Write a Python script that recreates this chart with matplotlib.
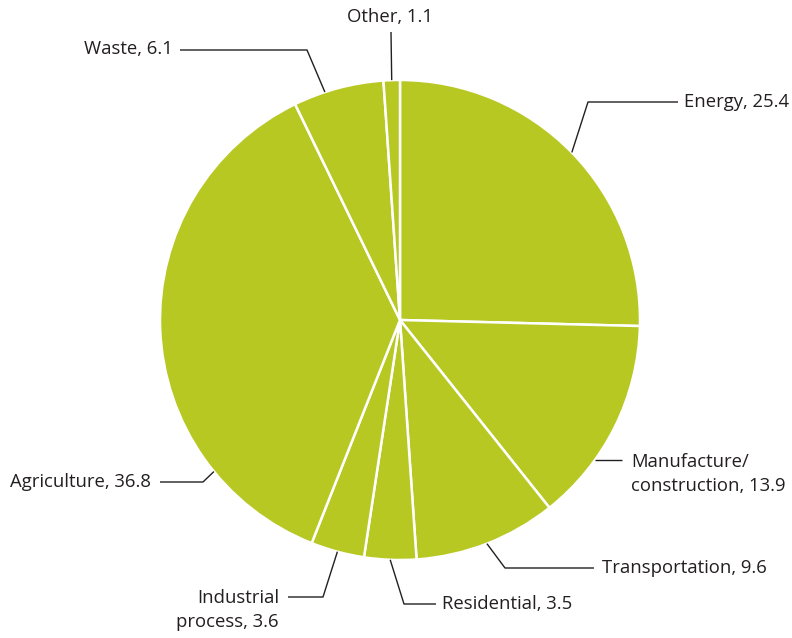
import numpy as np
from matplotlib import pyplot as plt

# ----- DATA ----- #
sectors = ['Energy', 'Manufacture/\nconstruction', 'Transportation', 'Residential',
           'Industrial\nprocess', 'Agriculture', 'Waste', 'Other']
shares = [25.4, 13.9, 9.6, 3.5, 3.6, 36.8, 6.1, 1.1]

# ----- LAYOUT (pixel coords, y down) ----- #
W, H = 792, 638
cx, cy, rad = 400, 320, 240
# anchor angle offset from slice middle [deg], elbow point, line end, text pos, alignment
anchor_off = [0, -9.2, 0, 0, 0, 37.0, 3.3, 0]
elbows = [(588, 102), None, (505, 568), (404, 604), (323, 597), (203, 482), (307, 50), None]
ends = [(678, 102), (622, 460), (594, 568), (436, 604), (288, 597), (160, 482), (180, 50), (391, 32)]
text_pos = [(684, 102), (631, 474), (602, 568), (442, 604), (279, 610), (151, 482), (173, 49), (390, 17)]
text_ha = ['left', 'left', 'left', 'left', 'right', 'right', 'right', 'center']

green = '#b7c823'
ink = '#231f20'

plt.rcParams['font.family'] = ['Open Sans', 'DejaVu Sans']

fig = plt.figure(figsize=(W/100, H/100), dpi=100)
ax = fig.add_axes([0, 0, 1, 1])
ax.set_aspect('equal')


def flip(p):
    return (p[0], H - p[1])


ax.pie(shares, colors=[green]*len(shares), startangle=90, counterclock=False,
       center=(cx, H - cy), radius=rad, frame=True,
       wedgeprops=dict(edgecolor='white', linewidth=1.8))
ax.set_xlim(0, W)
ax.set_ylim(0, H)
ax.axis('off')

cum = np.cumsum([0] + shares)
for i, name in enumerate(sectors):
    mid = 90 - (cum[i] + shares[i]/2)*3.6 + anchor_off[i]
    a = np.deg2rad(mid)
    start = (cx + rad*np.cos(a), H - cy + rad*np.sin(a))
    pts = [start]
    if elbows[i] is not None:
        pts.append(flip(elbows[i]))
    e = flip(ends[i])
    if elbows[i] is None and i != len(sectors) - 1:
        e = (e[0], start[1])
    pts.append(e)
    xs, ys = zip(*pts)
    ax.plot(xs, ys, color=ink, lw=1.0, solid_capstyle='butt')
    tx, ty = flip(text_pos[i])
    ax.text(tx, ty, f'{name}, {shares[i]}', ha=text_ha[i], va='center', fontsize=13.3,
            color=ink, linespacing=1.4, multialignment=text_ha[i])

fig.savefig('out.png', dpi=100)
